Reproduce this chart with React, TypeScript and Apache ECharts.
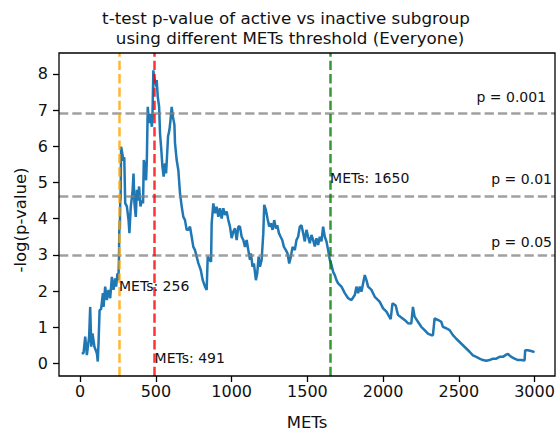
import React, { useEffect, useRef } from 'react';
import * as echarts from 'echarts';

const mets = [
  10, 22, 33, 44, 59, 66, 73, 81, 94, 110, 116, 121, 128, 138, 150, 154, 165, 176, 187, 198,
  209, 220, 231, 237, 246, 252, 256, 258, 260, 262, 264, 267, 270, 278, 285, 291, 297, 308, 319, 325,
  334, 345, 352, 358, 367, 374, 380, 389, 398, 407, 415, 420, 429, 435, 440, 446, 455, 464, 473, 477,
  483, 488, 494, 501, 505, 512, 521, 527, 534, 543, 551, 560, 567, 573, 580, 589, 596, 604, 613, 622,
  626, 637, 648, 659, 670, 681, 692, 703, 714, 725, 736, 747, 758, 769, 780, 796, 809, 824, 835, 842,
  853, 864, 868, 879, 890, 901, 912, 923, 934, 945, 956, 967, 978, 989, 1000, 1011, 1022, 1033, 1044, 1055,
  1066, 1077, 1088, 1099, 1110, 1121, 1127, 1138, 1147, 1160, 1169, 1178, 1187, 1198, 1209, 1215, 1226, 1237, 1248, 1259,
  1270, 1281, 1292, 1301, 1312, 1323, 1334, 1345, 1358, 1369, 1380, 1391, 1402, 1417, 1428, 1439, 1450, 1461, 1472, 1483,
  1494, 1505, 1516, 1527, 1538, 1549, 1560, 1571, 1582, 1593, 1604, 1615, 1626, 1637, 1648, 1659, 1670, 1681, 1692, 1703,
  1725, 1747, 1769, 1791, 1813, 1824, 1835, 1846, 1857, 1879, 1890, 1901, 1923, 1945, 1967, 1978, 2000, 2022, 2050, 2062,
  2083, 2098, 2120, 2142, 2164, 2186, 2197, 2208, 2230, 2252, 2274, 2296, 2318, 2329, 2340, 2362, 2384, 2395, 2417, 2439,
  2461, 2483, 2505, 2527, 2549, 2571, 2593, 2615, 2637, 2659, 2681, 2703, 2725, 2747, 2769, 2791, 2813, 2824, 2846, 2868,
  2890, 2912, 2934, 2938, 2956, 2978, 3000,
];

const negLogP = [
  0.28, 0.28, 0.74, 0.23, 0.74, 1.56, 0.46, 0.83, 0.46, 0.28, 0.05, 0.56, 1.47, 1.5, 1.94, 1.56, 2.12, 1.75, 2.03, 1.8,
  2.39, 2.03, 2.35, 2.12, 2.49, 2.3, 2.9, 3.6, 3.95, 3.7, 4.43, 4.6, 5.99, 5.8, 5.6, 5.7, 4.43, 4.34, 3.97, 3.6,
  4.34, 4.71, 5.25, 4.43, 4.05, 4.8, 4.5, 4.89, 4.34, 4.5, 4.43, 5.62, 5.43, 5.06, 5.62, 7.09, 6.64, 6.9, 6.54, 6.8,
  8.1, 7.9, 7.83, 7.65, 7.83, 7.37, 7.1, 6.36, 5.99, 5.44, 5.16, 5.53, 5.25, 5.7, 6.27, 6.45, 6.72, 7.09, 6.8, 6.6,
  6.09, 5.62, 5.34, 4.7, 4.34, 4.05, 3.96, 3.69, 3.69, 3.78, 3.5, 3.22, 3.13, 2.95, 2.77, 2.58, 2.3, 2.12, 2.03, 2.95,
  2.86, 2.81, 3.87, 4.42, 4.15, 4.33, 4.05, 4.29, 4.0, 4.29, 4.1, 4.2, 3.96, 3.78, 3.46, 3.64, 3.73, 3.41, 3.78, 3.78,
  3.5, 3.41, 3.22, 3.41, 3.13, 2.86, 3.04, 2.67, 2.76, 2.3, 2.49, 2.95, 2.67, 2.86, 3.6, 4.38, 4.24, 4.0, 3.78, 3.87,
  3.69, 3.96, 3.73, 3.82, 3.6, 3.5, 3.41, 3.22, 3.13, 3.04, 2.76, 2.95, 3.22, 3.13, 3.41, 3.5, 3.78, 3.82, 3.6, 3.37,
  3.69, 3.5, 3.32, 3.55, 3.41, 3.23, 3.46, 3.27, 3.5, 3.37, 3.78, 3.5, 3.37, 3.13, 2.86, 2.72, 2.53, 2.44, 2.3, 2.21,
  2.12, 1.94, 1.8, 1.75, 1.89, 2.12, 1.94, 2.12, 1.98, 2.44, 2.3, 2.12, 2.03, 1.84, 1.75, 1.7, 1.52, 1.43, 1.22, 1.66,
  1.6, 1.34, 1.27, 1.2, 1.11, 1.1, 1.56, 1.29, 1.15, 1.01, 0.92, 0.82, 0.78, 0.78, 1.24, 1.2, 1.15, 1.01, 0.97, 0.92,
  0.78, 0.68, 0.59, 0.5, 0.41, 0.32, 0.22, 0.18, 0.13, 0.09, 0.07, 0.09, 0.13, 0.13, 0.18, 0.18, 0.24, 0.26, 0.18, 0.13,
  0.09, 0.09, 0.08, 0.36, 0.36, 0.34, 0.31,
];

const xTicks = [0, 500, 1000, 1500, 2000, 2500, 3000];
const yTicks = [0, 1, 2, 3, 4, 5, 6, 7, 8];

const thresholdMets = [256, 491, 1650];
const thresholdLabels = ['METs: 256', 'METs: 491', 'METs: 1650'];
const thresholdLabelY = [2, 0, 5];
const thresholdColors = ['rgba(255,165,0,0.8)', 'rgba(255,0,0,0.8)', 'rgba(0,128,0,0.8)'];

const pLevels = [0.001, 0.01, 0.05];
const pLabels = ['p = 0.001', 'p = 0.01', 'p = 0.05'];
const pLabelX = [3076, 3115, 3115];
const pLabelY = [7.22, 4.95, 3.22];

const X_MIN = -140;
const X_MAX = 3135;
const Y_MIN = -0.35;
const Y_MAX = 8.58;

const FONT = 'DejaVu Sans';
const TEXT = '#111';
const DASH = [9.3, 4];

export default function App() {
  const ref = useRef<HTMLDivElement>(null);

  useEffect(() => {
    document.body.style.margin = '0';
    const chart = echarts.init(ref.current!, null, { renderer: 'svg' });
    const data = mets.map((m, i) => [m, negLogP[i]]);

    const markData: any[] = [];
    pLevels.forEach((p) => {
      markData.push({
        yAxis: -Math.log(p),
        lineStyle: { color: 'rgba(128,128,128,0.75)', type: DASH, width: 2.5 },
      });
    });
    thresholdMets.forEach((m, i) => {
      markData.push({
        xAxis: m,
        lineStyle: { color: thresholdColors[i], type: DASH, width: 2.5 },
      });
    });

    chart.setOption({
      animation: false,
      grid: { left: 59, right: 3, top: 53, bottom: 58 },
      xAxis: {
        type: 'value',
        min: X_MIN,
        max: X_MAX,
        splitLine: { show: false },
        axisLine: { show: false, onZero: false },
        axisTick: {
          show: true,
          length: 6,
          customValues: xTicks,
          lineStyle: { color: '#000', width: 1.3 },
        },
        axisLabel: {
          customValues: xTicks,
          formatter: (v: number) => String(v),
          margin: 7,
          color: TEXT,
          fontSize: 16,
          fontFamily: FONT,
        },
      },
      yAxis: {
        type: 'value',
        min: Y_MIN,
        max: Y_MAX,
        splitLine: { show: false },
        axisLine: { show: false, onZero: false },
        axisTick: {
          show: true,
          length: 6,
          customValues: yTicks,
          lineStyle: { color: '#000', width: 1.3 },
        },
        axisLabel: {
          customValues: yTicks,
          formatter: (v: number) => String(v),
          margin: 11,
          color: TEXT,
          fontSize: 16,
          fontFamily: FONT,
        },
      },
      series: [
        {
          type: 'line',
          data,
          showSymbol: false,
          symbol: 'none',
          lineStyle: { color: '#1f77b4', width: 2.5 },
          z: 2,
        },
        {
          type: 'line',
          data: [],
          z: 3,
          markLine: {
            silent: true,
            symbol: 'none',
            animation: false,
            label: { show: false },
            data: markData,
          },
        },
      ],
    });

    const baseline = (size: number) => 0.346 * size;
    const [x0, y0] = chart.convertToPixel({ gridIndex: 0 }, [X_MIN, Y_MAX]) as number[];
    const [x1, y1] = chart.convertToPixel({ gridIndex: 0 }, [X_MAX, Y_MIN]) as number[];

    const graphics: any[] = [
      {
        type: 'rect',
        shape: { x: x0, y: y0, width: x1 - x0, height: y1 - y0 },
        z: 20,
        silent: true,
        style: { fill: 'none', stroke: '#000', lineWidth: 1.3 },
      },
      {
        type: 'text',
        x: 286,
        y: 23.3 - baseline(16.7),
        style: {
          text: 't-test p-value of active vs inactive subgroup',
          font: `16.7px "${FONT}"`,
          fill: TEXT,
          textAlign: 'center',
          textVerticalAlign: 'middle',
        },
      },
      {
        type: 'text',
        x: 290,
        y: 44 - baseline(16.7),
        style: {
          text: 'using different METs threshold (Everyone)',
          font: `16.7px "${FONT}"`,
          fill: TEXT,
          textAlign: 'center',
          textVerticalAlign: 'middle',
        },
      },
      {
        type: 'text',
        x: 307,
        y: 428.3 - baseline(16.5),
        style: {
          text: 'METs',
          font: `16.5px "${FONT}"`,
          fill: TEXT,
          textAlign: 'center',
          textVerticalAlign: 'middle',
        },
      },
      {
        type: 'text',
        x: 26 - baseline(16.5),
        y: 220,
        rotation: Math.PI / 2,
        style: {
          text: '-log(p-value)',
          font: `16.5px "${FONT}"`,
          fill: TEXT,
          textAlign: 'center',
          textVerticalAlign: 'middle',
        },
      },
    ];

    thresholdMets.forEach((m, i) => {
      const [px, py] = chart.convertToPixel({ gridIndex: 0 }, [m, thresholdLabelY[i]]) as number[];
      graphics.push({
        type: 'text',
        x: px,
        y: py - baseline(14),
        z: 10,
        style: {
          text: thresholdLabels[i],
          font: `14px "${FONT}"`,
          fill: TEXT,
          textAlign: 'left',
          textVerticalAlign: 'middle',
        },
      });
    });

    pLabels.forEach((t, i) => {
      const [px, py] = chart.convertToPixel({ gridIndex: 0 }, [pLabelX[i], pLabelY[i]]) as number[];
      graphics.push({
        type: 'text',
        x: px,
        y: py - baseline(14),
        z: 10,
        style: {
          text: t,
          font: `14px "${FONT}"`,
          fill: TEXT,
          textAlign: 'right',
          textVerticalAlign: 'middle',
        },
      });
    });

    chart.setOption({ graphic: graphics });

    return () => {
      chart.dispose();
    };
  }, []);

  return (
    <div
      ref={ref}
      style={{ position: 'fixed', left: 0, top: 0, width: 558, height: 434, background: '#fff' }}
    />
  );
}
